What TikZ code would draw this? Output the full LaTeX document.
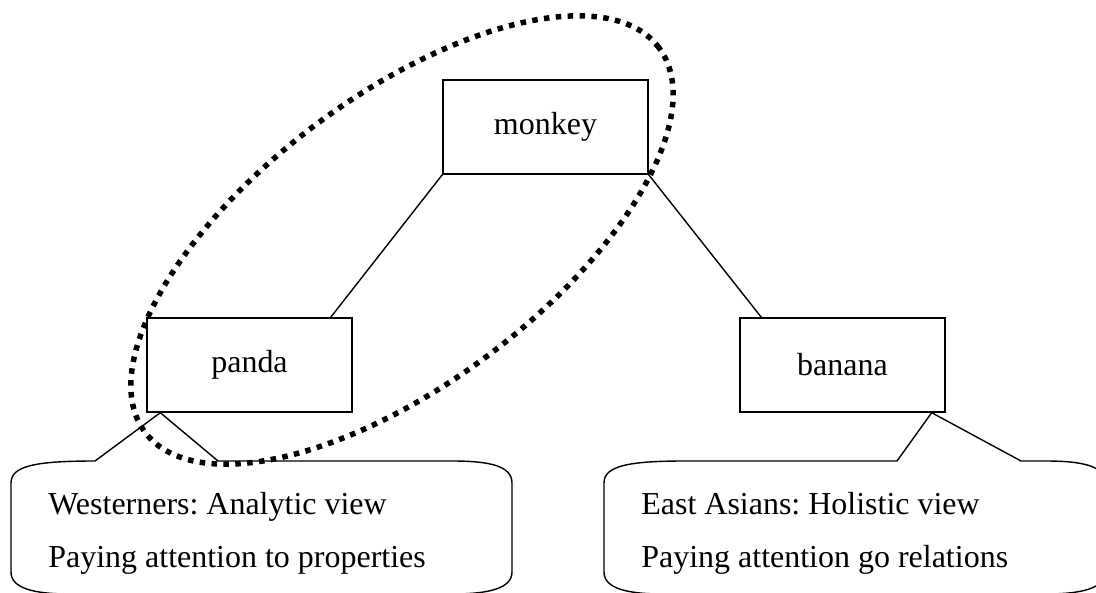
\documentclass[tikz,border=0pt]{standalone}
\usepackage{fontspec}
\setmainfont{Liberation Serif}
\usetikzlibrary{calc}
\frenchspacing
\tikzset{
  box/.style={draw, line width=0.8pt, minimum width=4.1cm, minimum height=1.88cm, inner sep=0pt, font=\fontsize{18.2}{21}\selectfont},
  link/.style={draw, line width=0.8pt},
  bubble/.style={draw, line width=0.8pt, line join=miter},
  txt/.style={anchor=base west, inner sep=0pt, font=\fontsize{18.2}{21}\selectfont},
  group/.style={draw, line width=0.11cm, dash pattern=on 0.11cm off 0.128cm}
}
\begin{document}
\begin{tikzpicture}[x=0.02cm, y=0.02cm]
\useasboundingbox (0,0) rectangle (1096,592);
\clip (0,0) rectangle (1096,592);
% boxes
\node[box] (monkey) at (545.5,465) {monkey};
\node[box] (panda) at (249.5,227) {panda};
\node[box] (banana) at (842.5,227) {banana};
% connectors
\draw[link] (monkey.south west) -- ($(panda.north east)+(-22,0)$);
\draw[link] (monkey.south east) -- ($(banana.north west)+(22,0)$);
% callout tips
\coordinate (ptip) at ($(panda.south west)+(14,0)$);
\coordinate (btip) at ($(banana.south east)+(-14,0)$);
% left callout
\draw[bubble] (11,109) .. controls (11,126) and (35,131) .. (95,131) -- (ptip) -- (218,131)
  -- (452,131) .. controls (490,131) and (512,126) .. (512,109)
  -- (512,20) .. controls (512,4) and (490,-2) .. (452,-2)
  -- (70,-2) .. controls (33,-2) and (11,4) .. (11,20) -- cycle;
% right callout
\draw[bubble] (604,109) .. controls (604,126) and (628,131) .. (685,131) -- (897,131) -- (btip) -- (1021,131)
  -- (1045,131) .. controls (1083,131) and (1105,126) .. (1105,109)
  -- (1105,20) .. controls (1105,4) and (1083,-2) .. (1045,-2)
  -- (663,-2) .. controls (626,-2) and (604,4) .. (604,20) -- cycle;
% texts
\node[txt] (w1) at (48,77) {Westerners: Analytic view};
\node[txt] (w2) at (48,25) {Paying attention to properties};
\node[txt] (e1) at (641,77) {East Asians: Holistic view};
\node[txt] (e2) at (641,25) {Paying attention go relations};
% dotted grouping ellipse
\draw[group, rotate around={36.8:(402,352)}] (402,352) ellipse [x radius=6.42cm, y radius=2.88cm];
\end{tikzpicture}
\end{document}
